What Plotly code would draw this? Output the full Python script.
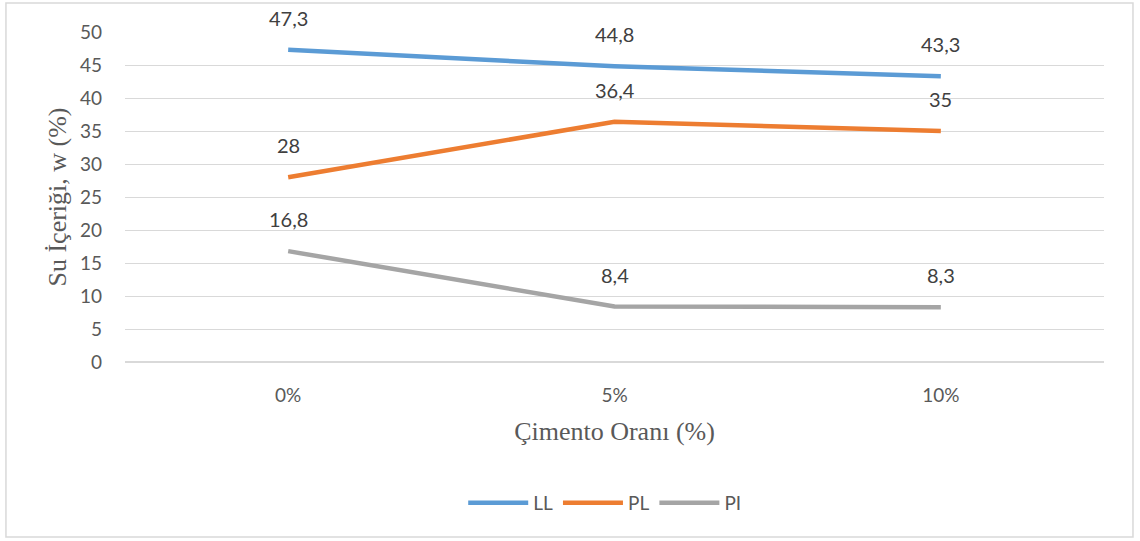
import plotly.graph_objects as go

categories = ["0%", "5%", "10%"]
LL = [47.3, 44.8, 43.3]
PL = [28, 36.4, 35]
PI = [16.8, 8.4, 8.3]
y_ticks = [0, 5, 10, 15, 20, 25, 30, 35, 40, 45, 50]

series = [("LL", LL, "#5B9BD5"), ("PL", PL, "#ED7D31"), ("PI", PI, "#A5A5A5")]

fig = go.Figure()
annotations = []
for name, vals, color in series:
    fig.add_trace(go.Scatter(x=categories, y=vals, name=name, mode="lines",
                             line=dict(color=color, width=4.5)))
    for c, v in zip(categories, vals):
        annotations.append(dict(x=c, y=v, text=f"{v:g}".replace(".", ","),
                                showarrow=False, yshift=32,
                                font=dict(family="Lato, Open Sans", size=20, color="#404040")))

fig.update_layout(
    width=1140, height=541,
    margin=dict(l=125, r=36, t=32, b=179),
    plot_bgcolor="white", paper_bgcolor="white",
    font=dict(family="Lato, Open Sans", size=19, color="#595959"),
    annotations=annotations,
    showlegend=True,
    legend=dict(orientation="h", x=0.49, xanchor="center", y=-0.427, yanchor="middle",
                font=dict(size=19, color="#595959"), itemwidth=60),
    xaxis=dict(range=[-0.5, 2.5], showgrid=False, zeroline=False, showline=False,
               ticks="", ticklabelstandoff=20,
               title=dict(text="Çimento Oranı (%)", standoff=16,
                          font=dict(family="Liberation Serif, Times New Roman", size=26, color="#595959"))),
    yaxis=dict(range=[0, 50], tickvals=y_ticks, showgrid=True, gridcolor="#D9D9D9", gridwidth=1,
               zeroline=True, zerolinecolor="#D9D9D9", zerolinewidth=1.5,
               showline=False, ticks="", ticklabelstandoff=22,
               title=dict(text="Su İçeriği, w (%)", standoff=5,
                          font=dict(family="Liberation Serif, Times New Roman", size=26, color="#595959"))),
    shapes=[dict(type="rect", xref="paper", yref="paper",
                 x0=-0.1216, x1=1.0296, y0=-0.530, y1=1.0879,
                 line=dict(color="#D9D9D9", width=1.5), layer="below")],
)
fig.update_xaxes(type="category")
fig.write_html("out.html")
